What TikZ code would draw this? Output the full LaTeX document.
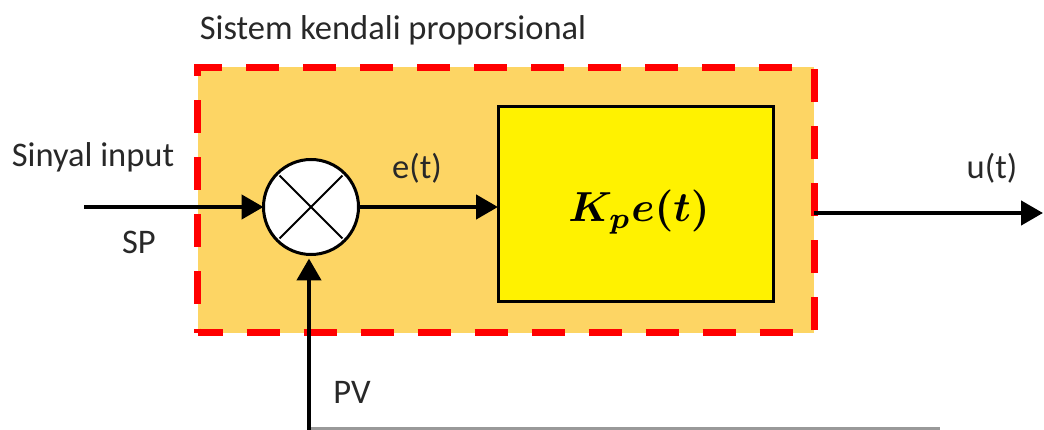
\documentclass[tikz,border=0pt]{standalone}
\usepackage{amsmath}
\usepackage{bm}
\usepackage{graphicx}
\usepackage{fontspec}
\setmainfont{Carlito}
\usetikzlibrary{arrows.meta}
\definecolor{orangefill}{RGB}{253,213,100}
\definecolor{txt}{RGB}{40,40,40}
\begin{document}
\begin{tikzpicture}[x=1pt,y=-1pt,
  lbl/.style={font=\fontsize{34.5}{40}\selectfont, text=txt, inner sep=0pt},
  conn/.style={line width=4.5pt, -{Triangle[length=22pt,width=24pt]}},
  sysbox/.style={draw=red, fill=orangefill, line width=7pt, dash pattern=on 33pt off 24pt, dash phase=8pt, outer sep=0pt, inner sep=0pt},
  gainbox/.style={draw=black, fill=yellow, line width=3pt, outer sep=0pt, inner sep=0pt},
  sumnode/.style={circle, draw=black, fill=white, line width=3pt, outer sep=0pt, inner sep=0pt}
]
\useasboundingbox (0,0) rectangle (1044,430);
% system box
\node[sysbox, minimum width=616.5pt, minimum height=265pt] (sys) at (505.75,200) {};
\node[lbl] (title) at (393,30) {Sistem kendali proporsional};
% gain block
\node[gainbox, minimum width=275pt, minimum height=195pt] (kp) at (635.5,204.5) {};
\node[inner sep=0pt] (kptext) at (639,212) {\scalebox{4.2}{$\bm{K_p e(t)}$}};
% summing junction
\node[sumnode, minimum size=95pt] (sum) at (311,207) {};
\draw[line width=2pt, shorten <=3pt, shorten >=3pt] (sum.north west) -- (sum.south east);
\draw[line width=2pt, shorten <=3pt, shorten >=3pt] (sum.north east) -- (sum.south west);
% input
\coordinate (in) at (84,207);
\draw[conn] (in) -- (sum.west);
\node[lbl] (sinyal) at (93,157) {Sinyal input};
\node[lbl] (sp) at (139,242) {SP};
% e(t)
\draw[conn] (sum.east) -- (sum.east -| kp.west);
\node[lbl] (et) at (417,168) {e(t)};
% output
\coordinate (outS) at (814,213);
\coordinate (outE) at (1043,213);
\draw[conn] (outS) -- (outE);
\node[lbl] (ut) at (992,168) {u(t)};
% feedback
\coordinate (pvb) at (309,432);
\coordinate (fbl) at (309,428.5);
\coordinate (fbr) at (940,428.5);
\draw[gray!80, line width=2.5pt] (fbl) -- (fbr);
\draw[conn, shorten >=4pt] (pvb) -- (sum.south -| pvb);
\node[lbl] (pv) at (352,392) {PV};
\end{tikzpicture}
\end{document}
